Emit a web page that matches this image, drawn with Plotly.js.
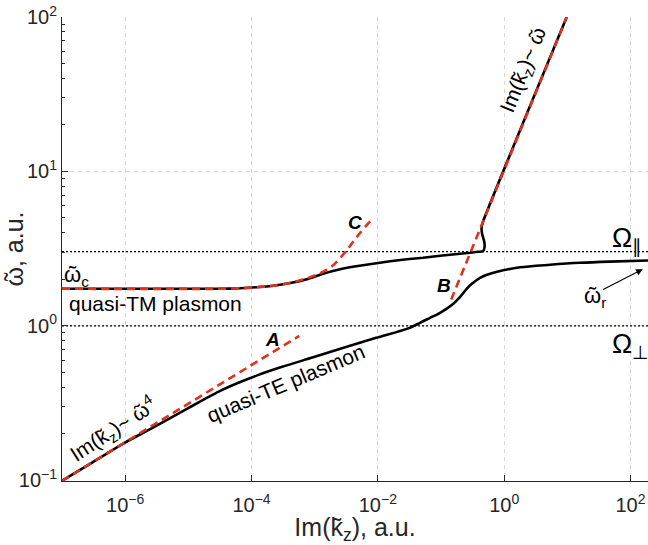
<!DOCTYPE html>
<html>
<head>
<meta charset="utf-8">
<script src="https://cdn.plot.ly/plotly-3.0.1.min.js"></script>
<style>html,body{margin:0;padding:0;background:#fff;}#chart{width:648px;height:545px;}</style>
</head>
<body>
<div id="chart"></div>
<script>
// ---- data ----
// quasi-TE plasmon branch (lower black curve)
const TE_k = [1e-7, 3.13e-7, 9.78e-7, 3.1e-6, 9.8e-6, 3.08e-5, 6.2e-5, 1.26e-4, 3.06e-4, 9.47e-4, 3.04e-3, 9.4e-3, 0.0302, 0.0467, 0.0672, 0.0968, 0.1498, 0.2005, 0.2588, 0.322, 0.4157, 0.772, 1.784, 5.32, 15.9, 47.4, 189];
const TE_w = [0.0991, 0.1316, 0.1747, 0.225, 0.292, 0.376, 0.4274, 0.4793, 0.5425, 0.625, 0.726, 0.836, 0.963, 1.046, 1.127, 1.214, 1.368, 1.541, 1.749, 1.899, 2.046, 2.237, 2.392, 2.484, 2.559, 2.605, 2.648];
// quasi-TM plasmon branch (upper black curve, with the hook and the Im(k)~w part)
const TM_k = [1e-7, 3.08e-5, 6.62e-5, 1.187e-4, 2.2e-4, 4.1e-4, 7.52e-4, 1.363e-3, 2.53e-3, 4.54e-3, 8.43e-3, 0.01565, 0.02876, 0.0521, 0.0968, 0.2005, 0.2887, 0.3864, 0.4635, 0.4897, 0.4808, 0.4470, 0.4389, 0.4553, 9.78];
const TM_w = [1.737, 1.737, 1.750, 1.776, 1.816, 1.891, 2.001, 2.172, 2.322, 2.429, 2.521, 2.617, 2.696, 2.757, 2.841, 2.927, 2.971, 3.016, 3.04, 3.249, 3.553, 3.944, 4.312, 4.647, 100];
// asymptote A : Im(k) ~ w^4
const A_k = [1e-7, 5.7e-4];
const A_w = [0.0991, 0.86];
// asymptote B : Im(k) ~ w
const B_k = [0.145, 9.8];
const B_w = [1.48, 100];
// asymptote C
const C_k = [1e-7, 3.08e-5, 6.62e-5, 1.187e-4, 2.2e-4, 4.1e-4, 7.61e-4, 1.222e-3, 1.962e-3, 2.626e-3, 3.27e-3, 4.065e-3, 5.25e-3, 6.29e-3, 7.55e-3];
const C_w = [1.737, 1.737, 1.750, 1.776, 1.816, 1.891, 2.030, 2.188, 2.465, 2.798, 3.106, 3.499, 4.003, 4.377, 4.751];
// characteristic frequencies
const OMEGA_PAR = 3.02;
const OMEGA_PERP = 1.0;
const OMEGA_X = [1e-7, 190];
// tick labels
const X_TICKS = [1e-6, 1e-4, 1e-2, 1, 100];
const X_TICKTEXT = ['10<sup>−6</sup>', '10<sup>−4</sup>', '10<sup>−2</sup>', '10<sup>0</sup>', '10<sup>2</sup>'];
const Y_TICKS = [0.1, 1, 10, 100];
const Y_TICKTEXT = ['10<sup>−1</sup>', '10<sup>0</sup>', '10<sup>1</sup>', '10<sup>2</sup>'];
const Y_MINOR = [0.2, 0.3, 0.4, 0.5, 0.6, 0.7, 0.8, 0.9, 2, 3, 4, 5, 6, 7, 8, 9, 20, 30, 40, 50, 60, 70, 80, 90];

// ---- styles ----
const FONT = '"Liberation Sans", Arial, Helvetica, sans-serif';
const INK = '#262626';
const RED = '#e0301e';
const DASH = '8px,5px';
const W = 'ῶ'; // omega with tilde-like accent

const traces = [
  {x: OMEGA_X, y: [OMEGA_PAR, OMEGA_PAR], mode: 'lines', line: {color: '#000', width: 1.3, dash: '2px,2px'}},
  {x: OMEGA_X, y: [OMEGA_PERP, OMEGA_PERP], mode: 'lines', line: {color: '#000', width: 1.3, dash: '2px,2px'}},
  {x: TE_k, y: TE_w, mode: 'lines', line: {color: '#000', width: 2.6, shape: 'spline', smoothing: 0.8}},
  {x: TM_k, y: TM_w, mode: 'lines', line: {color: '#000', width: 2.6, shape: 'spline', smoothing: 0.4}},
  {x: A_k, y: A_w, mode: 'lines', line: {color: RED, width: 2.6, dash: DASH}},
  {x: B_k, y: B_w, mode: 'lines', line: {color: RED, width: 2.6, dash: DASH}},
  {x: C_k, y: C_w, mode: 'lines', line: {color: RED, width: 2.6, dash: DASH, shape: 'spline', smoothing: 0.5}}
];

function P(px, py) { return {x: (px - 62) / 586, y: (481 - py) / 464}; }
function txt(px, py, text, size, opts) {
  const p = P(px, py);
  return Object.assign({xref: 'paper', yref: 'paper', x: p.x, y: p.y, text: text, showarrow: false,
    font: {family: FONT, size: size, color: '#000'}, xanchor: 'center', yanchor: 'middle'}, opts || {});
}
const head = P(642.7, 269.3);
const annotations = [
  txt(62, 276, W + '<sub>c</sub>', 22, {xanchor: 'left'}),
  txt(67, 303, 'quasi-TM plasmon', 21, {xanchor: 'left'}),
  txt(285, 383, 'quasi-TE plasmon', 21, {textangle: -23}),
  txt(113, 429, 'Im(k̃<sub>z</sub>)~ ' + W + '<sup>4</sup>', 21, {textangle: -33}),
  txt(524, 70, 'Im(k̃<sub>z</sub>)~ ' + W, 21, {textangle: -68}),
  txt(272, 339, '<b><i>A</i></b>', 19),
  txt(444, 286, '<b><i>B</i></b>', 19),
  txt(355, 222, '<b><i>C</i></b>', 19),
  txt(610, 240, 'Ω<sub>∥</sub>', 27, {xanchor: 'left'}),
  txt(610, 346, 'Ω<sub>⊥</sub>', 27, {xanchor: 'left'}),
  txt(595, 297, W + '<sub>r</sub>', 22),
  {xref: 'paper', yref: 'paper', x: head.x, y: head.y, text: '', showarrow: true, ax: -41, ay: 21,
   arrowhead: 2, arrowsize: 1.2, arrowwidth: 1.1, arrowcolor: '#000'}
];

const layout = {
  width: 648, height: 545,
  margin: {l: 62, r: 0, t: 17, b: 64},
  paper_bgcolor: '#fff', plot_bgcolor: '#fff',
  showlegend: false,
  font: {family: FONT, color: INK, size: 20},
  xaxis: {
    type: 'log', range: [-7, 2.277], autorange: false,
    tickmode: 'array', tickvals: X_TICKS, ticktext: X_TICKTEXT,
    ticks: 'inside', ticklen: 6, tickcolor: INK, tickwidth: 1,
    ticklabelstandoff: 6,
    showline: true, linecolor: INK, linewidth: 1, mirror: false,
    showgrid: true, gridcolor: '#d8d8d8', gridwidth: 1, griddash: '4px,4px',
    zeroline: false, automargin: false,
    tickfont: {family: FONT, size: 20, color: INK},
    title: {text: 'Im(k̃<sub>z</sub>), a.u.', font: {family: FONT, size: 25, color: INK}, standoff: 8}
  },
  yaxis: {
    type: 'log', range: [-1.005, 2], autorange: false,
    tickmode: 'array', tickvals: Y_TICKS, ticktext: Y_TICKTEXT,
    ticks: 'inside', ticklen: 6, tickcolor: INK, tickwidth: 1,
    minor: {tickmode: 'array', tickvals: Y_MINOR, ticks: 'inside', ticklen: 3, tickcolor: INK, tickwidth: 1, showgrid: false},
    showline: true, linecolor: INK, linewidth: 1, mirror: false,
    showgrid: true, gridcolor: '#d8d8d8', gridwidth: 1, griddash: '4px,4px',
    zeroline: false, automargin: false,
    tickfont: {family: FONT, size: 20, color: INK},
    title: {text: W + ', a.u.', font: {family: FONT, size: 25, color: INK}, standoff: 4}
  },
  annotations: annotations
};

Plotly.newPlot('chart', traces, layout, {displayModeBar: false, staticPlot: true});
</script>
</body>
</html>
